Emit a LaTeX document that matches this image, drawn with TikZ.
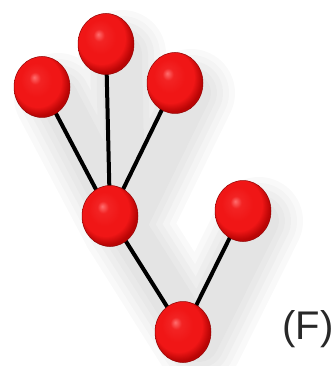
\documentclass[tikz,border=0pt]{standalone}
\usepackage{fontspec}
\setmainfont{Liberation Sans}
\usetikzlibrary{shapes.geometric,backgrounds}
\definecolor{TRhi}{RGB}{255,110,110}
\definecolor{TRred}{RGB}{240,22,22}
\definecolor{TRdeep}{RGB}{185,5,5}
\definecolor{TRshade}{RGB}{140,140,140}
\definecolor{TRtext}{RGB}{40,40,40}
\pgfdeclareradialshading{redball}{\pgfpoint{-7bp}{8bp}}{color(0bp)=(TRhi); color(5bp)=(TRred!85!TRhi); color(14bp)=(TRred); color(21bp)=(TRred); color(27bp)=(TRdeep); color(50bp)=(TRdeep)}
\tikzset{
  atom/.style={ellipse,minimum width=56pt,minimum height=61pt,inner sep=0pt,
               shading=redball,draw=TRdeep!80!black,line width=0.5pt},
  bond/.style={line width=4pt,draw=black},
  haze/.style={line cap=round,line join=round,draw=TRshade,opacity=0.05},
  tag/.style={font=\fontsize{40}{42}\selectfont,text=TRtext,inner sep=0pt}
}

\begin{document}
\begin{tikzpicture}[x=1pt,y=-1pt]
  \useasboundingbox (0,0) rectangle (334,366);
  \node[atom] (tl) at (42,87) {};
  \node[atom] (tt) at (106,44) {};
  \node[atom] (tr) at (175,83) {};
  \node[atom] (mid) at (110,216) {};
  \node[atom] (br) at (243,211) {};
  \node[atom] (bot) at (183,332) {};
  \node[tag] (lab) at (308,329) {(F)};
  \begin{scope}[on background layer]
    % soft shadow behind the tree
    \foreach \w in {88,76,64,52,40}
      \draw[haze,line width=\w pt]
        ([xshift=16pt,yshift=-10pt]tl.center) -- ([xshift=16pt,yshift=-10pt]mid.center)
        -- ([xshift=16pt,yshift=-10pt]bot.center) -- ([xshift=16pt,yshift=-10pt]br.center)
        ([xshift=16pt,yshift=-10pt]tt.center) -- ([xshift=16pt,yshift=-10pt]mid.center)
        -- ([xshift=16pt,yshift=-10pt]tr.center);
    \draw[bond] (tl.center) -- (mid.center);
    \draw[bond] (tt.center) -- (mid.center);
    \draw[bond] (tr.center) -- (mid.center);
    \draw[bond] (mid.center) -- (bot.center);
    \draw[bond] (br.center) -- (bot.center);
  \end{scope}
\end{tikzpicture}
\end{document}
